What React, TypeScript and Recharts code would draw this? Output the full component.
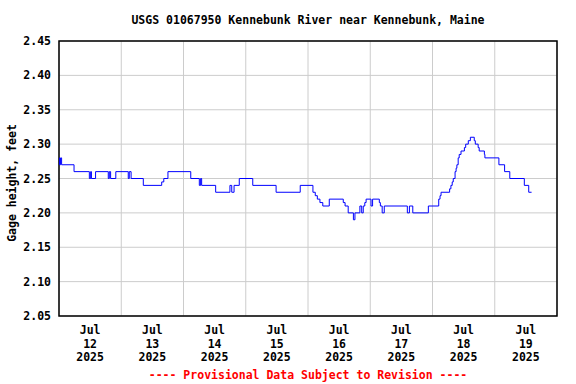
import { CartesianGrid, Line, LineChart, ReferenceArea, XAxis, YAxis } from "recharts";

// hours since Jul 12 2025 00:00, and gage height (ft)
const hours = [
  0, 0.2, 0.6, 1.0, 5.8, 11.7, 12.2, 12.5, 14.1, 19.0, 19.4, 19.9, 21.9, 26.7, 27.1, 27.8,
  32.5, 39.6, 40.4, 42.0, 50.8, 54.1, 54.6, 55.0, 60.4, 65.9, 66.6, 67.5, 69.5, 74.7, 83.7,
  93.0, 97.9, 98.8, 99.6, 100.6, 101.7, 104.2, 109.6, 110.3, 111.5, 113.5, 114.1, 116.0,
  116.7, 117.3, 117.9, 118.4, 120.3, 120.9, 123.5, 123.9, 124.6, 125.4, 134.3, 135.1, 136.4,
  142.4, 146.4, 146.9, 147.3, 150.6, 151.1, 151.6, 152.0, 152.7, 153.1, 153.4, 153.9, 154.3,
  155.0, 156.3, 156.8, 157.8, 158.6, 160.1, 160.5, 161.6, 162.0, 164.0, 164.2, 169.6, 171.8,
  173.8, 179.4, 181.1, 182.2,
];
const gage = [
  2.28, 2.27, 2.28, 2.27, 2.26, 2.25, 2.26, 2.25, 2.26, 2.25, 2.26, 2.25, 2.26, 2.25, 2.26, 2.25,
  2.24, 2.245, 2.25, 2.26, 2.25, 2.24, 2.25, 2.24, 2.23, 2.24, 2.23, 2.24, 2.25, 2.24, 2.23,
  2.24, 2.23, 2.225, 2.22, 2.215, 2.21, 2.22, 2.215, 2.21, 2.2, 2.19, 2.2, 2.21,
  2.2, 2.21, 2.215, 2.22, 2.21, 2.22, 2.215, 2.21, 2.2, 2.21, 2.2, 2.21, 2.2,
  2.21, 2.22, 2.225, 2.23, 2.235, 2.24, 2.245, 2.25, 2.26, 2.265, 2.27, 2.28, 2.285,
  2.29, 2.295, 2.3, 2.305, 2.31, 2.305, 2.3, 2.295, 2.29, 2.285, 2.28, 2.27, 2.26,
  2.25, 2.24, 2.23, 2.23,
];

const dayStarts = [0, 24, 48, 72, 96, 120, 144, 168, 192];
const labelHours = [12, 36, 60, 84, 108, 132, 156, 180];
const months = ["Jul", "Jul", "Jul", "Jul", "Jul", "Jul", "Jul", "Jul"];
const days = ["12", "13", "14", "15", "16", "17", "18", "19"];
const years = ["2025", "2025", "2025", "2025", "2025", "2025", "2025", "2025"];
const yTicks = [2.05, 2.1, 2.15, 2.2, 2.25, 2.3, 2.35, 2.4, 2.45];

const data = hours.map((t, i) => ({ t, v: gage[i] }));

const FONT = "'DejaVu Sans Mono', monospace";

function DateTick({ x, y, payload }: any) {
  const i = labelHours.indexOf(payload.value);
  return (
    <text x={x} y={y} textAnchor="middle" fontFamily={FONT} fontWeight="bold" fontSize={11.5} fill="#000">
      <tspan x={x} dy={10}>{months[i]}</tspan>
      <tspan x={x} dy={13.5}>{days[i]}</tspan>
      <tspan x={x} dy={13.5}>{years[i]}</tspan>
    </text>
  );
}

export default function App() {
  return (
    <div style={{ position: "relative", width: 576, height: 384, background: "#fff", fontFamily: FONT }}>
      <style>{"body{margin:0}"}</style>
      <div
        style={{
          position: "absolute", left: 58, width: 500, top: 13, lineHeight: "14px",
          textAlign: "center", fontSize: 11.5, fontWeight: "bold", color: "#000",
        }}
      >
        USGS 01067950 Kennebunk River near Kennebunk, Maine
      </div>
      <div
        style={{
          position: "absolute", left: 12, top: 183, width: 0, height: 0,
        }}
      >
        <div
          style={{
            position: "absolute", left: -100, top: -7, width: 200, lineHeight: "14px",
            textAlign: "center", transform: "rotate(-90deg)", fontSize: 11.5, fontWeight: "bold", whiteSpace: "nowrap",
          }}
        >
          Gage height, feet
        </div>
      </div>
      <LineChart
        width={576}
        height={384}
        data={data}
        margin={{ top: 41, right: 19, left: 0, bottom: 18 }}
      >
        <CartesianGrid
          stroke="#cccccc"
          strokeWidth={1}
          verticalCoordinatesGenerator={({ offset }: any) =>
            dayStarts.map((h) => offset.left + (h / 192) * offset.width)
          }
        />
        <XAxis
          dataKey="t"
          type="number"
          domain={[0, 192]}
          ticks={labelHours}
          interval={0}
          tick={<DateTick />}
          tickLine={false}
          axisLine={false}
          height={50}
        />
        <YAxis
          domain={[2.05, 2.45]}
          ticks={yTicks}
          interval={0}
          tickFormatter={(v: number) => v.toFixed(2)}
          tick={{ fontFamily: FONT, fontWeight: "bold", fontSize: 11.5, fill: "#000" }}
          tickLine={false}
          axisLine={false}
          width={59}
        />
        <ReferenceArea x1={0} x2={192} y1={2.05} y2={2.45} fill="none" stroke="#000" strokeWidth={1.5} />
        <Line
          type="stepAfter"
          dataKey="v"
          stroke="#0000ff"
          strokeWidth={1}
          dot={false}
          isAnimationActive={false}
        />
      </LineChart>
      <div
        style={{
          position: "absolute", left: 58, width: 500, top: 368, lineHeight: "14px",
          textAlign: "center", fontSize: 11.5, fontWeight: "bold", color: "#ff0000",
        }}
      >
        ---- Provisional Data Subject to Revision ----
      </div>
    </div>
  );
}
